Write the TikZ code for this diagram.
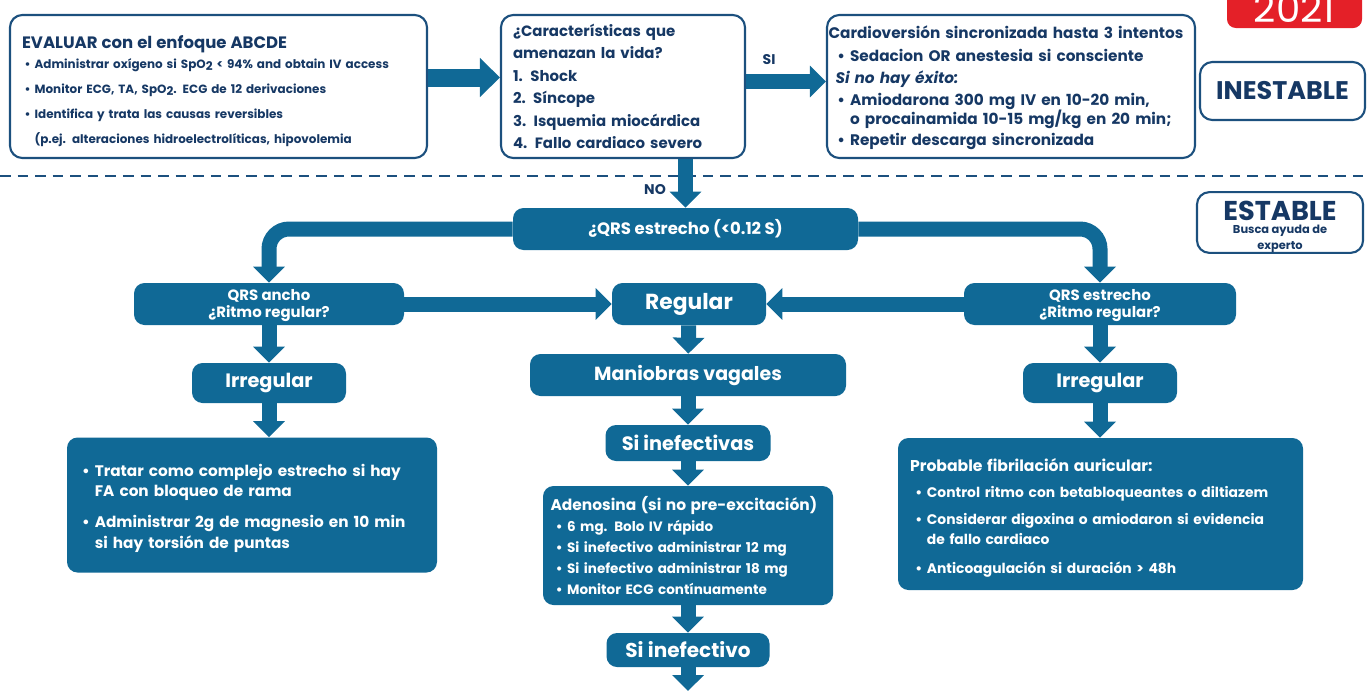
\documentclass[tikz,border=0pt]{standalone}
\usepackage{fontspec}
\setmainfont{Poppins}
\usetikzlibrary{arrows.meta}
\definecolor{cFill}{RGB}{16,105,150}
\definecolor{bEdge}{RGB}{28,80,126}
\definecolor{tNavy}{RGB}{22,56,100}
\definecolor{cRed}{RGB}{228,32,40}
\newcommand{\fsz}[2]{\fontsize{#1}{#2}\selectfont}
\newcommand{\itm}{\textbullet\ }
\newcommand{\sptwo}{SpO\raisebox{-0.35ex}{2}}

\begin{document}
\begin{tikzpicture}[
    x=0.02cm, y=-0.02cm,
    font=\bfseries,
    openbox/.style={draw=bEdge, line width=1.2pt, rounded corners=7pt, text=tNavy, inner sep=0pt},
    fillbox/.style={fill=cFill, rounded corners=6pt, text=white, align=center, inner sep=0pt},
    boxsize/.style 2 args={minimum width=#1*0.02cm, minimum height=#2*0.02cm},
    fat/.style={-{Triangle[length=0.32cm, width=0.62cm]}, line width=0.3cm, draw=cFill},
    bigfat/.style={-{Triangle[length=0.4cm, width=0.76cm]}, line width=0.36cm, draw=cFill},
    lbl/.style={text=tNavy, font=\bfseries\fsz{8}{10}},
    dashline/.style={draw=bEdge, line width=1.3pt, dash pattern=on 6pt off 4pt}
]
\useasboundingbox (0,0) rectangle (1368,691);

% Inestable: top row
\node[openbox, boxsize={417}{143}, text width=7.86cm, align=left, font=\bfseries\fsz{6.8}{14.2}] (eval) at (218.5,86.5) {
    \rule{0pt}{12.7pt}{\fsz{9.4}{12}EVALUAR con el enfoque ABCDE}\\[-2.9pt]
    \hspace*{1.5pt}\itm Administrar oxígeno si \sptwo{} < 94\% and obtain IV access\\
    \hspace*{1.5pt}\itm Monitor ECG, TA, \sptwo. ECG de 12 derivaciones\\
    \hspace*{1.5pt}\itm Identifica y trata las causas reversibles\\
    \hspace*{1.5pt}\phantom{\itm}(p.ej. alteraciones hidroelectrolíticas, hipovolemia
};
\node[openbox, boxsize={244}{143}, text width=4.4cm, align=left, font=\bfseries\fsz{8.5}{12.8}] (crit) at (623,86.5) {
    ¿Características que\\
    amenazan la vida?\\
    1. Shock\\
    2. Síncope\\
    3. Isquemia miocárdica\\
    4. Fallo cardiaco severo
};
\node[openbox, boxsize={368}{143}, text width=7.3cm, align=left, font=\bfseries\fsz{8.7}{12.6}] (cardio) at (1011,86.5) {
    \rule{0pt}{8.6pt}Cardioversión sincronizada hasta 3 intentos\\
    \hspace*{5pt}\itm Sedacion OR anestesia si consciente\\
    \hspace*{4pt}{\itshape Si no hay éxito:}\\
    \hspace*{5pt}\itm Amiodarona 300 mg IV en 10-20 min,\\[-1.8pt]
    \hspace*{5pt}\phantom{\itm}o procainamida 10-15 mg/kg en 20 min;\\[-0.8pt]
    \hspace*{5pt}\itm Repetir descarga sincronizada
};
\node[openbox, boxsize={165}{58}, font=\bfseries\fsz{14.5}{16}] (inest) at (1282.5,91) {INESTABLE};

\begin{scope}
    \clip (0,0) rectangle (1368,691);
    \node[fill=cRed, rounded corners=5pt, boxsize={135}{48}] (yearbox) at (1294.5,4) {};
    \node[text=white, font=\mdseries\fsz{22}{24}] (year) at (1294.5,8.5) {2021};
\end{scope}

\draw[bigfat] ([yshift=0.18cm]eval.east) -- ([yshift=0.18cm]crit.west);
\draw[fat] ([yshift=0.1cm]crit.east) -- ([yshift=0.1cm]cardio.west);
\node[lbl] (si) at (769,60) {SI};

\draw[dashline] (0,176) -- (1368,176);

% Estable
\node[fillbox, boxsize={345}{42}, font=\bfseries\fsz{9.4}{11}] (qrs) at (685.5,229) {¿QRS estrecho (<0.12 S)};
\draw[fat] (qrs.north |- crit.south) -- (qrs.north);
\node[lbl] (no) at (655,190) {NO};

\node[openbox, boxsize={166}{59}, align=center, font=\bfseries\fsz{6.5}{5.6}] (estab) at (1280,222.5) {
    {\fsz{15.5}{15}\rule{0pt}{16pt}ESTABLE}\\[1.8pt]
    Busca ayuda de\\[2.2pt]
    experto
};

\node[fillbox, boxsize={270}{42}, font=\bfseries\fsz{8.5}{10}] (ancho) at (269,304) {\rule{0pt}{8pt}QRS ancho\\¿Ritmo regular?};
\node[fillbox, boxsize={154}{42}, font=\bfseries\fsz{12.4}{14}] (reg) at (689,304) {Regular};
\node[fillbox, boxsize={272}{42}, font=\bfseries\fsz{8.5}{10}] (estr) at (1100,304) {\rule{0pt}{8pt}QRS estrecho\\¿Ritmo regular?};

\draw[fat, rounded corners=0.4cm] (qrs.west) -| (ancho.north);
\draw[fat, rounded corners=0.4cm] (qrs.east) -| (estr.north);
\draw[fat] (ancho) -- (reg);
\draw[fat] (estr) -- (reg);

\node[fillbox, boxsize={154}{40}, font=\bfseries\fsz{11}{13}] (irrL) at (269,383) {Irregular};
\node[fillbox, boxsize={316}{42}, font=\bfseries\fsz{10.8}{12}] (mani) at (688,375) {Maniobras vagales};
\node[fillbox, boxsize={154}{40}, font=\bfseries\fsz{11}{13}] (irrR) at (1100,383) {Irregular};

\draw[fat] (ancho) -- (irrL);
\draw[fat] (reg) -- (mani);
\draw[fat] (estr) -- (irrR);

% Wide QRS treatment
\node[fillbox, boxsize={370}{135}, align=left, text width=6.8cm, font=\bfseries\fsz{8.7}{11.9}] (wide) at (252,505) {
    \rule{0pt}{10.5pt}\itm Tratar como complejo estrecho si hay\\
    \phantom{\itm}FA con bloqueo de rama\\[5.5pt]
    \itm Administrar 2g de magnesio en 10 min\\
    \phantom{\itm}si hay torsión de puntas
};
\draw[fat] (irrL) -- (irrL |- wide.north);

% Regular branch
\node[fillbox, boxsize={165}{36}, font=\bfseries\fsz{11}{12}] (inef1) at (688,443) {Si inefectivas};
\node[fillbox, boxsize={290}{119}, align=left, text width=5.5cm, font=\bfseries\fsz{7.7}{11.9}] (aden) at (688,545.5) {
    {\fsz{8.8}{11.9}Adenosina (si no pre-excitación)}\\
    \hspace*{3pt}\itm 6 mg. Bolo IV rápido\\
    \hspace*{3pt}\itm Si inefectivo administrar 12 mg\\
    \hspace*{3pt}\itm Si inefectivo administrar 18 mg\\
    \hspace*{3pt}\itm Monitor ECG contínuamente
};
\node[fillbox, boxsize={163}{34}, font=\bfseries\fsz{11.4}{12}] (inef2) at (688,650) {Si inefectivo};
\coordinate (tail) at (688,691);

\draw[fat] (mani) -- (inef1);
\draw[fat] (inef1) -- (aden);
\draw[fat] (aden) -- (inef2);
\draw[fat] (inef2) -- (tail);

% Narrow irregular
\node[fillbox, boxsize={405}{152}, align=left, text width=7.62cm, font=\bfseries\fsz{7.9}{11.3}] (fib) at (1100.5,514) {
    \rule{0pt}{12pt}{\fsz{8.9}{11.3}Probable fibrilación auricular:}\\[3pt]
    \hspace*{3pt}\itm Control ritmo con betabloqueantes o diltiazem\\[4.5pt]
    \hspace*{3pt}\itm Considerar digoxina o amiodaron si evidencia\\
    \hspace*{3pt}\phantom{\itm}de fallo cardiaco\\[5pt]
    \hspace*{3pt}\itm Anticoagulación si duración > 48h
};
\draw[fat] (irrR) -- (irrR |- fib.north);

\end{tikzpicture}
\end{document}
